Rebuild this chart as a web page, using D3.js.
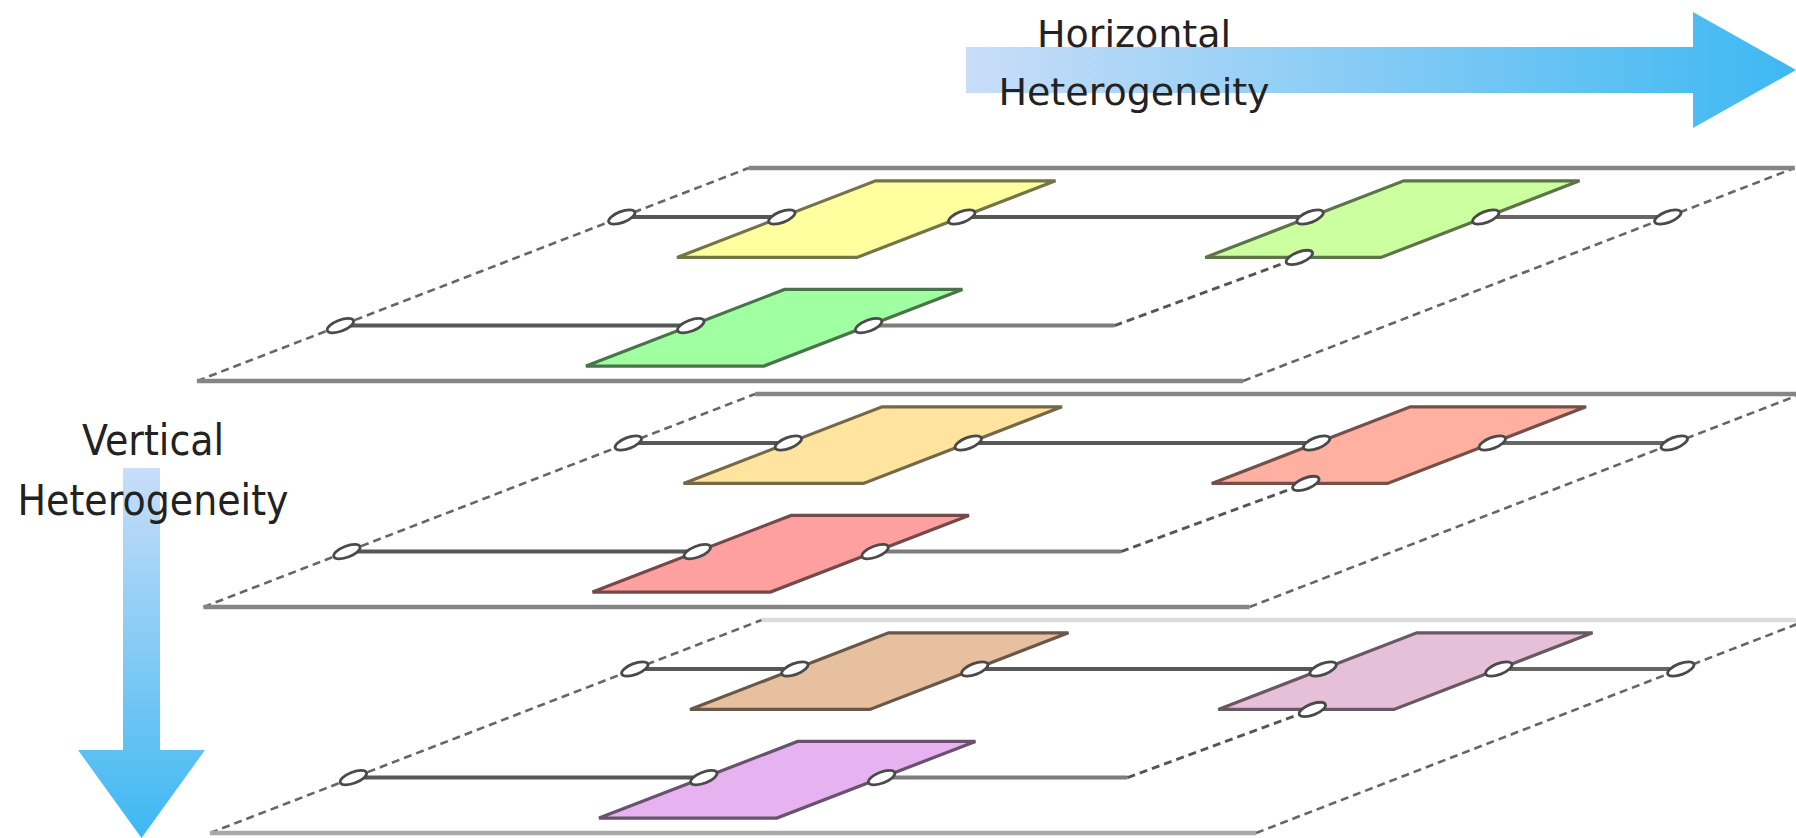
<!DOCTYPE html>
<meta charset="utf-8">
<script src="https://d3js.org/d3.v7.min.js"></script>
<style>
  body { margin: 0; background: #fff; }
  svg { display: block; }
</style>
<div id="my_dataviz"></div>
<script>
  // three layers, drawn top to bottom
  const layerNames = ["layer 1", "layer 2", "layer 3"];

  // node fills per layer: back-left, back-right, front
  const nodeFill = [
    ["#ffff9f", "#ccffa0", "#a0ffa0"],
    ["#ffe4a0", "#ffb0a0", "#ffa0a0"],
    ["#e6c09f", "#e6c0d8", "#e6b3f0"]
  ];
  // where each node sits across the plate (% of width) and in which row
  const nodeFrom = [15.3, 65.8, 33.5];
  const nodeTo   = [32.5, 82.6, 50.5];
  const nodeRow  = ["back", "back", "front"];
  const rowDepth = {back: 77, front: 26};   // % of plate depth
  const linkAcross = 74;                     // front row runs on to here, then links back

  const topLabel  = ["Horizontal", "Heterogeneity"];
  const sideLabel = ["Vertical", "Heterogeneity"];

  var width = 1796, height = 838;

  var svg = d3.select("#my_dataviz")
    .append("svg")
      .attr("width", width)
      .attr("height", height);

  // scales for the oblique plates
  var plateBottom = d3.scaleLinear().domain([0, layerNames.length - 1]).range([381, 833]);
  var plateLeft = d3.scaleLinear().domain([0, layerNames.length - 1]).range([197, 210]);
  var across = d3.scaleLinear().domain([0, 100]).range([0, 1046]);
  var depth = d3.scaleLinear().domain([0, 100]).range([0, 213]);
  var slant = 2.59;
  var portAngle = Math.atan2(-1, slant) * 180 / Math.PI;

  function pt(i, u, d) {
    var h = depth(d);
    return [plateLeft(i) + across(u) + h * slant, plateBottom(i) - h];
  }

  var defs = svg.append("defs");
  var gh = defs.append("linearGradient").attr("id", "gh")
    .attr("gradientUnits", "userSpaceOnUse")
    .attr("x1", 966).attr("y1", 0).attr("x2", 1796).attr("y2", 0);
  gh.append("stop").attr("offset", 0).attr("stop-color", "#c9ddf8");
  gh.append("stop").attr("offset", 1).attr("stop-color", "#3db8f2");
  var gv = defs.append("linearGradient").attr("id", "gv")
    .attr("gradientUnits", "userSpaceOnUse")
    .attr("x1", 0).attr("y1", 468).attr("x2", 0).attr("y2", 838);
  gv.append("stop").attr("offset", 0).attr("stop-color", "#c9ddf8");
  gv.append("stop").attr("offset", 1).attr("stop-color", "#3db8f2");

  var line = d3.line();

  layerNames.forEach(function(name, i) {
    var g = svg.append("g").attr("class", "plate");

    // plate body
    var corners = [pt(i, 0, 0), pt(i, 100, 0), pt(i, 100, 100), pt(i, 0, 100)];
    g.append("path")
      .attr("d", line(corners) + "Z")
      .attr("fill", "#fff");
    // dashed sides
    [[pt(i, 0, 0), pt(i, 0, 100)], [pt(i, 100, 0), pt(i, 100, 100)]].forEach(function(s) {
      g.append("path").attr("d", line(s))
        .attr("stroke", "#666").attr("stroke-width", 2.6)
        .attr("stroke-dasharray", "8,5").attr("fill", "none");
    });
    // solid near and far edges
    g.append("path").attr("d", line([pt(i, 0, 0), pt(i, 100, 0)]))
      .attr("stroke", i == 2 ? "#a8a8a8" : "#858585").attr("stroke-width", 4.5);
    g.append("path").attr("d", line([pt(i, 0, 100), pt(i, 100, 100)]))
      .attr("stroke", i == 2 ? "#dcdcdc" : "#858585").attr("stroke-width", 4.5);

    // row lines
    var back = rowDepth.back, front = rowDepth.front;
    var segs = [
      [[0, back], [nodeFrom[0], back], "#575757"],
      [[nodeTo[0], back], [nodeFrom[1], back], "#575757"],
      [[nodeTo[1], back], [100, back], "#666"],
      [[0, front], [nodeFrom[2], front], "#575757"],
      [[nodeTo[2], front], [linkAcross, front], "#7d7d7d"]
    ];
    segs.forEach(function(s) {
      g.append("path")
        .attr("d", line([pt(i, s[0][0], s[0][1]), pt(i, s[1][0], s[1][1])]))
        .attr("stroke", s[2]).attr("stroke-width", 4);
    });
    // link from the front row back to the right node
    var cBottom = rowDepth[nodeRow[1]] - 19;
    g.append("path")
      .attr("d", line([pt(i, linkAcross, front), pt(i, linkAcross + 0.8, cBottom)]))
      .attr("stroke", "#555").attr("stroke-width", 2.8)
      .attr("stroke-dasharray", "8,5").attr("fill", "none");

    // nodes
    nodeFill[i].forEach(function(fill, j) {
      var r = rowDepth[nodeRow[j]];
      var poly = [pt(i, nodeFrom[j], r - 19), pt(i, nodeTo[j], r - 19),
                  pt(i, nodeTo[j], r + 17), pt(i, nodeFrom[j], r + 17)];
      g.append("path")
        .attr("d", line(poly) + "Z")
        .attr("fill", fill)
        .attr("stroke", d3.color(fill).darker(2.2))
        .attr("stroke-width", 3.2)
        .attr("stroke-linejoin", "miter");
    });

    // ports
    var ports = [
      [0, back], [nodeFrom[0], back], [nodeTo[0], back],
      [nodeFrom[1], back], [nodeTo[1], back], [100, back],
      [0, front], [nodeFrom[2], front], [nodeTo[2], front],
      [linkAcross + 0.8, cBottom]
    ];
    g.selectAll("ellipse")
      .data(ports)
      .enter()
      .append("ellipse")
        .attr("transform", function(p) {
          var q = pt(i, p[0], p[1]);
          return "translate(" + q[0] + "," + q[1] + ")rotate(" + portAngle + ")";
        })
        .attr("rx", 14)
        .attr("ry", 5.5)
        .attr("fill", "#fff")
        .attr("stroke", "#4a4a4a")
        .attr("stroke-width", 2.8);
  });

  // horizontal arrow
  svg.append("path")
    .attr("d", line([[966, 47], [1693, 47], [1693, 12], [1796, 70], [1693, 128], [1693, 93], [966, 93]]) + "Z")
    .attr("fill", "url(#gh)");
  // vertical arrow
  svg.append("path")
    .attr("d", line([[123, 468], [160, 468], [160, 750], [205, 750], [141.5, 838], [78, 750], [123, 750]]) + "Z")
    .attr("fill", "url(#gv)");

  // labels
  svg.append("g")
    .selectAll("text")
    .data(topLabel)
    .enter()
    .append("text")
      .attr("x", 1134)
      .attr("y", function(d, k) { return 47 + k * 58; })
      .attr("text-anchor", "middle")
      .style("font-family", "DejaVu Sans")
      .style("font-size", "38px")
      .style("fill", "#222")
      .text(function(d) { return d; });

  svg.append("g")
    .selectAll("text")
    .data(sideLabel)
    .enter()
    .append("text")
      .attr("transform", function(d, k) { return "translate(153," + (455 + k * 60) + ")scale(1,1.14)"; })
      .attr("text-anchor", "middle")
      .style("font-family", "DejaVu Sans")
      .style("font-size", "38px")
      .style("fill", "#222")
      .text(function(d) { return d; });
</script>
